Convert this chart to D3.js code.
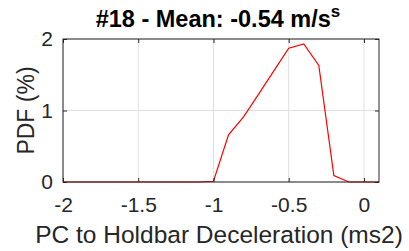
<!DOCTYPE html>
<html>
<head>
<meta charset="utf-8">
<script src="https://cdn.jsdelivr.net/npm/d3@7"></script>
<style>
  body { margin: 0; background: #fff; }
  text { font-family: "Liberation Sans", Arial, sans-serif; }
</style>
</head>
<body>
<svg id="chart" width="409" height="251"></svg>
<script>
// PDF of deceleration, bins every 0.1 m/s2
const binCenters = [-2.0, -1.9, -1.8, -1.7, -1.6, -1.5, -1.4, -1.3, -1.2, -1.1, -1.0,
  -0.9, -0.8, -0.7, -0.6, -0.5, -0.4, -0.3, -0.2, -0.1, 0.0, 0.1];
const pdfValues = [0, 0, 0, 0, 0, 0, 0, 0, 0, 0, 0.01,
  0.66, 0.91, 1.23, 1.55, 1.87, 1.93, 1.63, 0.09, 0, 0, 0];
const xTicks = [-2, -1.5, -1, -0.5, 0];
const yTicks = [0, 1, 2];

const svg = d3.select("#chart");
const margin = { top: 39, right: 30, bottom: 69, left: 63 };
const width = 409 - margin.left - margin.right;
const height = 251 - margin.top - margin.bottom;

const g = svg.append("g")
  .attr("transform", `translate(${margin.left},${margin.top})`);

const x = d3.scaleLinear().domain([-2, 0.1]).range([0, width]);
const y = d3.scaleLinear().domain([0, 2]).range([height, 0]);

// grid
g.append("g").selectAll("line").data(xTicks).enter().append("line")
  .attr("x1", d => x(d)).attr("x2", d => x(d))
  .attr("y1", 0).attr("y2", height)
  .attr("stroke", "#dfdfdf").attr("stroke-width", 1);
g.append("g").selectAll("line").data(yTicks).enter().append("line")
  .attr("x1", 0).attr("x2", width)
  .attr("y1", d => y(d)).attr("y2", d => y(d))
  .attr("stroke", "#dfdfdf").attr("stroke-width", 1);

// data line
const line = d3.line().x((d, i) => x(binCenters[i])).y(d => y(d));
g.append("path")
  .datum(pdfValues)
  .attr("fill", "none")
  .attr("stroke", "#ff0000")
  .attr("stroke-width", 1.2)
  .attr("d", line);

// axes (ticks pointing inward)
const fmt = d => String(d);
g.append("g")
  .attr("transform", `translate(0,${height})`)
  .call(d3.axisBottom(x).tickValues(xTicks).tickSize(-4).tickPadding(15).tickFormat(fmt))
  .call(a => a.select(".domain").remove());
g.append("g")
  .call(d3.axisTop(x).tickValues(xTicks).tickSize(-4).tickFormat(""))
  .call(a => a.select(".domain").remove());
g.append("g")
  .call(d3.axisLeft(y).tickValues(yTicks).tickSize(-4).tickPadding(10).tickFormat(fmt))
  .call(a => a.select(".domain").remove());
g.append("g")
  .attr("transform", `translate(${width},0)`)
  .call(d3.axisRight(y).tickValues(yTicks).tickSize(-4).tickFormat(""))
  .call(a => a.select(".domain").remove());

g.selectAll(".tick line").attr("stroke", "#262626");
g.selectAll(".tick text")
  .attr("fill", "#262626")
  .style("font-size", "21px")
  .style("font-family", "'Liberation Sans', Arial, sans-serif");

// box
g.append("rect")
  .attr("x", 0).attr("y", 0)
  .attr("width", width).attr("height", height)
  .attr("fill", "none")
  .attr("stroke", "#262626")
  .attr("stroke-width", 1);

// title
const title = svg.append("text")
  .attr("x", 218)
  .attr("y", 27)
  .attr("text-anchor", "middle")
  .style("font-size", "23.5px")
  .style("font-weight", "bold")
  .attr("fill", "#000");
title.append("tspan").text("#18 - Mean: -0.54 m/s");
title.append("tspan").attr("dy", -10).style("font-size", "17px").text("s");

// X-axis label
svg.append("text")
  .attr("x", 219)
  .attr("y", 243)
  .attr("text-anchor", "middle")
  .style("font-size", "24.5px")
  .attr("fill", "#262626")
  .text("PC to Holdbar Deceleration (ms2)");

// Y-axis label
svg.append("text")
  .attr("transform", "rotate(-90)")
  .attr("x", -(margin.top + height / 2))
  .attr("y", 34)
  .attr("text-anchor", "middle")
  .style("font-size", "23px")
  .attr("fill", "#262626")
  .text("PDF (%)");
</script>
</body>
</html>
